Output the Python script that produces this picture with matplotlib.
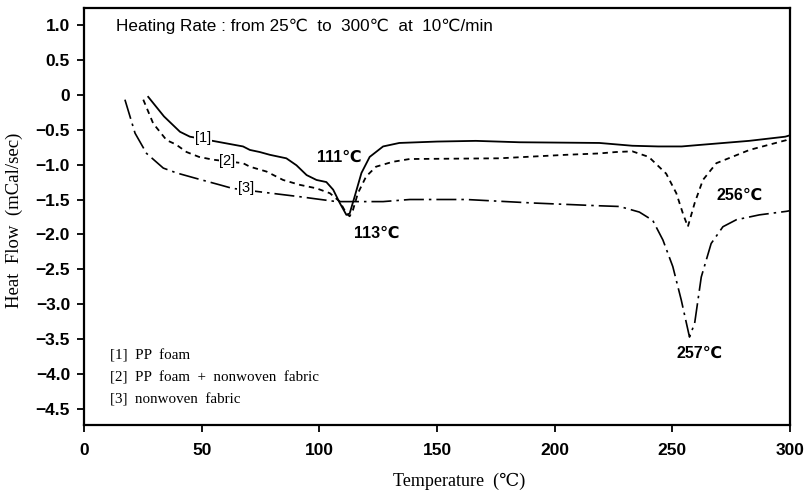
import matplotlib
matplotlib.use("Agg")
import matplotlib.pyplot as plt

# DSC traces (temperature in C, heat flow in mCal/sec)
pp_foam_t = [27.3, 34.0, 40.8, 45.0, 56.3, 67.6, 70.5, 74.7, 79.0, 86.0, 90.3, 94.6,
             98.8, 103.0, 105.9, 108.7, 111.5, 112.9, 115.0, 117.9, 121.4, 127.1,
             134.0, 150.0, 166.5, 185.0, 219.0, 233.0, 244.0, 254.0, 261.0, 282.6,
             298.0, 300.0]
pp_foam_q = [-0.03, -0.31, -0.53, -0.60, -0.67, -0.74, -0.79, -0.82, -0.86, -0.91, -1.01, -1.15,
             -1.22, -1.25, -1.36, -1.55, -1.72, -1.70, -1.46, -1.12, -0.89, -0.74,
             -0.69, -0.67, -0.66, -0.68, -0.69, -0.73, -0.74, -0.74, -0.72, -0.66,
             -0.60, -0.58]

mix_t = [25.2, 29.4, 35.1, 39.0, 43.6, 48.9, 54.9, 67.6, 70.5, 77.6, 84.6, 91.7, 98.8,
         104.5, 108.7, 111.5, 112.9, 114.3, 116.4, 119.9, 124.1, 131.2, 138.4, 176.4,
         204.7, 219.0, 226.0, 233.0, 240.0, 247.4, 251.7, 254.5, 256.6, 259.5, 263.0,
         268.7, 282.8, 298.4, 300.0]
mix_q = [-0.07, -0.41, -0.65, -0.71, -0.82, -0.89, -0.93, -0.98, -1.03, -1.10, -1.22, -1.29, -1.34,
         -1.41, -1.53, -1.70, -1.74, -1.65, -1.41, -1.17, -1.03, -0.96, -0.92, -0.91,
         -0.86, -0.84, -0.82, -0.81, -0.89, -1.13, -1.41, -1.70, -1.89, -1.55, -1.22,
         -0.98, -0.79, -0.65, -0.62]

fabric_t = [17.4, 21.7, 26.6, 33.7, 39.4, 47.9, 57.7, 63.0, 74.7, 91.7, 107.3, 115.8,
            127.1, 138.4, 162.5, 190.7, 219.0, 227.6, 236.0, 241.7, 246.0, 250.2, 253.8,
            257.3, 259.5, 262.3, 266.5, 271.5, 277.2, 287.0, 298.4, 300.0]
fabric_q = [-0.07, -0.55, -0.84, -1.05, -1.12, -1.20, -1.29, -1.34, -1.39, -1.46, -1.53, -1.53,
            -1.53, -1.50, -1.50, -1.55, -1.59, -1.60, -1.68, -1.80, -2.08, -2.46, -2.94,
            -3.47, -3.27, -2.61, -2.13, -1.89, -1.79, -1.72, -1.67, -1.66]

xticks = [0, 50, 100, 150, 200, 250, 300]
yticks = [1.0, 0.5, 0, -0.5, -1.0, -1.5, -2.0, -2.5, -3.0, -3.5, -4.0, -4.5]
ytick_labels = ["1.0", "0.5", "0", "\u22120.5", "\u22121.0", "\u22121.5", "\u22122.0",
                "\u22122.5", "\u22123.0", "\u22123.5", "\u22124.0", "\u22124.5"]

# inline curve tags: (text, x, y)
curve_tags = [("[1]", 50.5, -0.62), ("[2]", 61.0, -0.95), ("[3]", 68.8, -1.34)]
# peak annotations: (text, x, y)
peak_labels = [("111\u2103", 108.7, -0.89), ("113\u2103", 124.6, -1.98),
               ("256\u2103", 278.6, -1.44), ("257\u2103", 261.6, -3.70)]
legend_lines = ["[1]  PP  foam", "[2]  PP  foam  +  nonwoven  fabric", "[3]  nonwoven  fabric"]

sans = ["Liberation Sans", "DejaVu Sans"]
serif = ["Liberation Serif", "DejaVu Serif"]

fig = plt.figure(figsize=(8.09, 4.91), dpi=100)
ax = fig.add_axes([0.1038, 0.1344, 0.8727, 0.8493])

ax.plot(pp_foam_t, pp_foam_q, color="black", lw=1.3, ls="-")
ax.plot(mix_t, mix_q, color="black", lw=1.3, ls=(0, (3, 2.5)))
ax.plot(fabric_t, fabric_q, color="black", lw=1.2, ls=(0, (12, 3, 1.5, 3)))

ax.set_xlim(0, 300)
ax.set_ylim(-4.73, 1.243)
ax.set_xticks(xticks)
ax.set_xticklabels([str(t) for t in xticks], family=sans, weight="bold", fontsize=12.5)
ax.set_yticks(yticks)
ax.set_yticklabels(ytick_labels, family=sans, weight="bold", fontsize=12.5)
ax.tick_params(direction="out", length=5, width=1.3)
ax.tick_params(axis="x", pad=8)
ax.tick_params(axis="y", pad=5)
for s in ax.spines.values():
    s.set_linewidth(1.6)

ax.set_xlabel("Temperature  (\u2103)", family=serif, fontsize=13)
ax.xaxis.set_label_coords(0.531, -0.115)
ax.set_ylabel("Heat  Flow  (mCal/sec)", family=serif, fontsize=13.5)
ax.yaxis.set_label_coords(-0.086, 0.49)

ax.text(0.045, 0.955, "Heating Rate : from 25\u2103  to  300\u2103  at  10\u2103/min",
        transform=ax.transAxes, family=sans, fontsize=12.3, va="center", ha="left")

for txt, x, y in curve_tags:
    ax.text(x, y, txt, family=sans, fontsize=10.5, ha="center", va="center",
            bbox=dict(facecolor="white", edgecolor="none", pad=0.5))

for txt, x, y in peak_labels:
    ax.text(x, y, txt, family=sans, fontsize=11.5, weight="bold", ha="center", va="center")

for i, line in enumerate(legend_lines):
    ax.text(0.037, 0.167 - i * 0.053, line, transform=ax.transAxes, family=serif,
            fontsize=10.8, ha="left", va="center")

fig.savefig("out.png", dpi=100)
